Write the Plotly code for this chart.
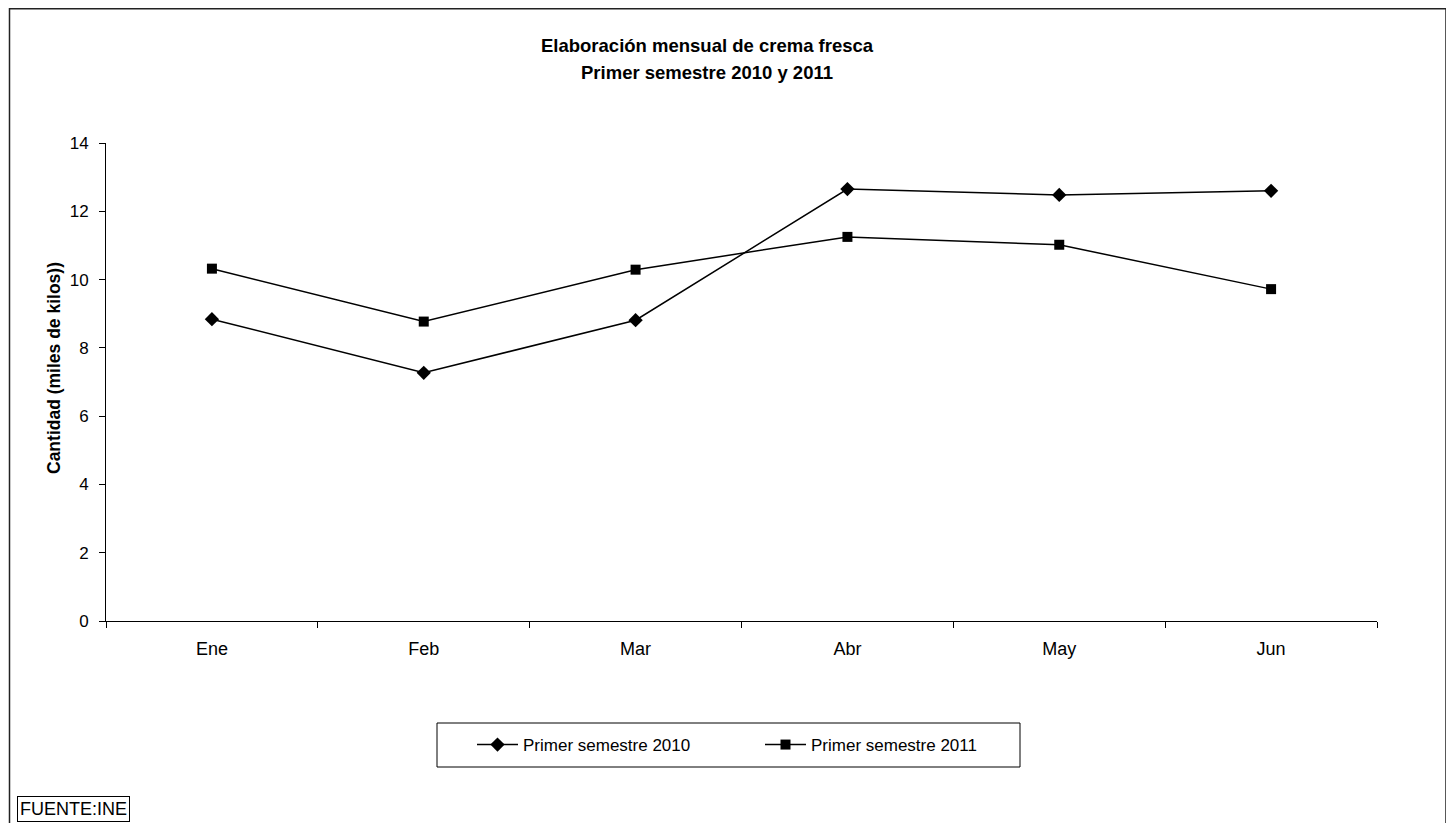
import plotly.graph_objects as go

months = ["Ene", "Feb", "Mar", "Abr", "May", "Jun"]
s2010 = [8.84, 7.27, 8.81, 12.65, 12.48, 12.60]
s2011 = [10.32, 8.77, 10.29, 11.25, 11.02, 9.72]
name2010 = "Primer semestre 2010"
name2011 = "Primer semestre 2011"
title1 = "Elaboración mensual de crema fresca"
title2 = "Primer semestre 2010 y 2011"
ytitle = "Cantidad (miles de kilos))"
source = "FUENTE:INE"

# page body has an 8px margin; figure sized to fit the 1454x823 window
OFF = 8
W, H = 1454 - OFF, 823 - OFF
PL, PR, PT, PB = 106, 1377, 143, 621          # plot area in screen coordinates
L, R, T, B = PL - OFF, W - (PR - OFF), PT - OFF, H - (PB - OFF)
pw, ph = W - L - R, H - T - B


def px(x):
    return (x - OFF - L) / pw


def py(y):
    return ((PB - OFF) - (y - OFF)) / ph


FONT = "Liberation Sans, Arial, sans-serif"

fig = go.Figure()
fig.add_trace(go.Scatter(
    x=months, y=s2010, name=name2010, mode="lines+markers",
    line=dict(color="black", width=1.5),
    marker=dict(symbol="diamond", size=11, color="black"),
))
fig.add_trace(go.Scatter(
    x=months, y=s2011, name=name2011, mode="lines+markers",
    line=dict(color="black", width=1.5),
    marker=dict(symbol="square", size=10, color="black"),
))

fig.update_layout(
    width=W, height=H,
    margin=dict(l=L, r=R, t=T, b=B, autoexpand=False),
    paper_bgcolor="white", plot_bgcolor="white",
    font=dict(family=FONT, size=17, color="black"),
    showlegend=True,
    legend=dict(
        orientation="h", x=px(472), xanchor="left", y=py(745), yanchor="middle",
        bgcolor="rgba(0,0,0,0)", borderwidth=0, font=dict(size=17),
        itemwidth=41, entrywidth=232, entrywidthmode="pixels",
    ),
    xaxis=dict(
        type="category", range=[-0.5, len(months) - 0.5],
        showline=True, linecolor="black", linewidth=1,
        ticks="outside", ticklen=6, tickcolor="black", tickson="boundaries",
        showgrid=False, zeroline=False, ticklabelstandoff=11,
        tickfont=dict(size=18),
    ),
    yaxis=dict(
        range=[0, 14], dtick=2, showline=True, linecolor="black", linewidth=1,
        ticks="outside", ticklen=6, tickcolor="black",
        showgrid=False, zeroline=False, ticklabelstandoff=7,
        tickfont=dict(size=17),
    ),
)

fig.add_annotation(text="<b>" + title1 + "</b>", x=px(707), y=py(46), xref="paper", yref="paper",
                   showarrow=False, font=dict(size=18.5), xanchor="center", yanchor="middle")
fig.add_annotation(text="<b>" + title2 + "</b>", x=px(707), y=py(72), xref="paper", yref="paper",
                   showarrow=False, font=dict(size=18.5), xanchor="center", yanchor="middle")
fig.add_annotation(text="<b>" + ytitle + "</b>", x=px(54), y=py(368), xref="paper", yref="paper",
                   showarrow=False, textangle=-90, font=dict(size=17.5), xanchor="center", yanchor="middle")
fig.add_annotation(text=source, x=px(17), y=py(809), xref="paper", yref="paper",
                   showarrow=False, font=dict(size=18), xanchor="left", yanchor="middle",
                   bordercolor="black", borderwidth=1, borderpad=2, bgcolor="white")

# outer chart border
fig.add_shape(type="rect", xref="paper", yref="paper",
              x0=px(9.5), x1=px(1446), y0=py(840), y1=py(OFF + 0.75),
              line=dict(color="#222222", width=1.5), layer="below")
# legend box
fig.add_shape(type="rect", xref="paper", yref="paper",
              x0=px(437), x1=px(1020), y0=py(767), y1=py(723),
              line=dict(color="black", width=1), layer="below")

fig.write_html("out.html")
